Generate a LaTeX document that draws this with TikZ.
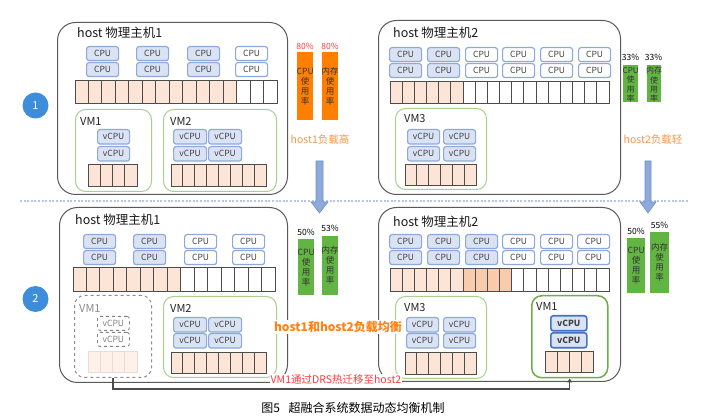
\documentclass[tikz,border=0pt]{standalone}
\usepackage{fontspec}
\setmainfont{Noto Sans CJK SC}
\usetikzlibrary{arrows.meta}
\definecolor{cpuB}{HTML}{8EA9DB}
\definecolor{cpuBd}{HTML}{4472C4}
\definecolor{cpuFill}{HTML}{DAE3F3}
\definecolor{memFill}{HTML}{FCE4D6}
\definecolor{memDark}{HTML}{F8CBAD}
\definecolor{memFade}{HTML}{FDF1E9}
\definecolor{memFadeB}{HTML}{E9DCD3}
\definecolor{vmG}{HTML}{A9D18E}
\definecolor{vmGd}{HTML}{70AD47}
\definecolor{barO}{HTML}{FF7F00}
\definecolor{barG}{HTML}{62B443}
\definecolor{redT}{HTML}{FF3B3B}
\definecolor{oraT}{HTML}{F7964A}
\definecolor{oraB}{HTML}{FF8214}
\definecolor{arrB}{HTML}{8EA9DB}
\definecolor{arrBd}{HTML}{6F8FC9}
\definecolor{circ}{HTML}{3E8DDA}
\definecolor{sepC}{HTML}{B4C7E7}

\tikzset{
  host/.style={draw=black!65, line width=1pt, rounded corners=18pt, anchor=north west, inner sep=0},
  hostlabel/.style={font=\fontsize{12.5}{14}\selectfont, anchor=west, inner sep=0, text=black!90},
  cpubox/.style={draw=cpuB, line width=1.2pt, rounded corners=2.5pt, minimum width=32pt, minimum height=14pt, inner sep=0, anchor=north west, font=\fontsize{8.5}{9}\selectfont, text=black!75},
  vcpu/.style={cpubox, fill=cpuFill, minimum width=33pt, minimum height=14.5pt},
  vm/.style={draw=vmG, line width=1pt, rounded corners=10pt, anchor=north west, inner sep=0},
  vmlabel/.style={font=\fontsize{11}{12}\selectfont, anchor=west, inner sep=0, text=black!85},
  memcell/.style={draw=black!70, line width=0.9pt, inner sep=0, outer sep=0, anchor=north west},
  barbox/.style={anchor=north west, inner sep=0, draw=none},
  bartext/.style={align=center, font=\fontsize{8.5}{10}\selectfont, inner sep=0, text=black!80},
  pct/.style={font=\fontsize{8.5}{9}\selectfont, inner sep=0},
  mig/.style={draw=black!70, line width=1.3pt, -{Triangle[length=4pt,width=5pt]}},
  bluearrow/.style={fill=arrB, draw=arrBd, line width=0.6pt},
  numcirc/.style={circle, fill=circ, text=white, minimum size=26pt, inner sep=0, font=\fontsize{11}{12}\selectfont}
}

\newcommand\cpurow[4]{%
  \foreach \xx/\fc [count=\k] in {#4}{
    \node[cpubox, fill=\fc] (#1-\k-1) at (\xx,#2) {CPU};
    \node[cpubox, fill=\fc] (#1-\k-2) at (\xx,#3) {CPU};
  }}

\newcommand\membar[8]{%
  \pgfmathsetmacro\cw{(#4-#2)/#6}%
  \pgfmathsetmacro\ch{#5-#3}%
  \foreach \i in {1,...,#6}{
    \pgfmathsetmacro\xa{#2+(\i-1)*\cw}
    \ifnum\i>\numexpr#7+#8\relax \def\fc{white}\else\ifnum\i>#7 \def\fc{memDark}\else\def\fc{memFill}\fi\fi
    \node[memcell, fill=\fc, minimum width=\cw pt, minimum height=\ch pt] (#1-\i) at (\xa,#3) {};
  }}

\begin{document}
\begin{tikzpicture}[x=1pt,y=-1pt]
\fill[white] (0,0) rectangle (707,419);
\useasboundingbox (0,0) rectangle (707,419);

% separator
\draw[sepC, line width=1.2pt, dash pattern=on 2pt off 1.6pt] (20,201) -- (689,201);

% step circles
\node[numcirc] (n1) at (35.5,105.5) {1};
\node[numcirc] (n2) at (35.5,299) {2};

% ================= TOP HOST 1 =================
\node[host, minimum width=230pt, minimum height=172pt] (h1) at (57,22) {};
\node[hostlabel] (h1l) at (77,33) {host 物理主机1};
\cpurow{a}{46}{62}{86/cpuFill,136/cpuFill,187/cpuFill,235/white}
\membar{am}{75}{80}{277}{103}{15}{12}{0}
\node[vm, minimum width=76pt, minimum height=82pt] (avm1) at (75,109) {};
\node[vmlabel] (avm1l) at (80,121) {VM1};
\node[vcpu, minimum width=32pt] (avm1c1) at (97,129) {vCPU};
\node[vcpu, minimum width=32pt] (avm1c2) at (97,146) {vCPU};
\membar{avm1m}{88}{164}{137}{186}{4}{4}{0}
\node[vm, minimum width=113pt, minimum height=82pt] (avm2) at (163,109) {};
\node[vmlabel] (avm2l) at (170,121) {VM2};
\node[vcpu] (avm2c1) at (173,129) {vCPU};
\node[vcpu] (avm2c2) at (208,129) {vCPU};
\node[vcpu] (avm2c3) at (173,146) {vCPU};
\node[vcpu] (avm2c4) at (208,146) {vCPU};
\membar{avm2m}{171}{164}{266}{186}{8}{8}{0}

% top host1 bars
\node[barbox, fill=barO, minimum width=16pt, minimum height=68pt] (ob1) at (297,52) {};
\node[barbox, fill=barO, minimum width=16pt, minimum height=68pt] (ob2) at (322,52) {};
\node[bartext] (ob1t) at (ob1.center) {CPU\\使\\用\\率};
\node[bartext] (ob2t) at (ob2.center) {内存\\使\\用\\率};
\node[pct, text=redT] (ob1p) at (305,46) {80\%};
\node[pct, text=redT] (ob2p) at (330,46) {80\%};
\node[font=\fontsize{10.5}{12}\selectfont, text=oraT, inner sep=0] (h1load) at (320,140) {host1负载高};

% ================= TOP HOST 2 =================
\node[host, minimum width=242pt, minimum height=174pt] (h2) at (378,20) {};
\node[hostlabel] (h2l) at (393,33) {host 物理主机2};
\cpurow{b}{47}{63}{389/cpuFill,427/cpuFill,465/white,502/white,540/white,578/white}
\membar{bm}{390}{81}{609}{103}{18}{6}{0}
\node[vm, minimum width=91pt, minimum height=81pt] (bvm3) at (395,108) {};
\node[vmlabel] (bvm3l) at (404,119) {VM3};
\node[vcpu, minimum width=32pt] (bvm3c1) at (407,129) {vCPU};
\node[vcpu, minimum width=32pt] (bvm3c2) at (443,129) {vCPU};
\node[vcpu, minimum width=32pt] (bvm3c3) at (407,146) {vCPU};
\node[vcpu, minimum width=32pt] (bvm3c4) at (443,146) {vCPU};
\membar{bvm3m}{405}{164}{476}{185}{6}{6}{0}

\node[barbox, fill=barG, minimum width=15pt, minimum height=37pt] (gb1) at (623,65) {};
\node[barbox, fill=barG, minimum width=14pt, minimum height=37pt] (gb2) at (647,65) {};
\node[bartext, font=\fontsize{8}{9.3}\selectfont] (gb1t) at ([yshift=-1pt]gb1.center) {CPU\\使\\用\\率};
\node[bartext, font=\fontsize{8}{9.3}\selectfont] (gb2t) at ([yshift=-1pt]gb2.center) {内存\\使\\用\\率};
\node[pct] (gb1p) at (630.5,57) {33\%};
\node[pct] (gb2p) at (653.5,57) {33\%};
\node[font=\fontsize{10.5}{12}\selectfont, text=oraT, inner sep=0] (h2load) at (653,140) {host2负载轻};

% blue arrows
\filldraw[bluearrow] (316,161) -- (323,161) -- (323,202) -- (328,202) -- (319.5,213) -- (311,202) -- (316,202) -- cycle;
\filldraw[bluearrow] (645,161) -- (651,161) -- (651,202) -- (656,202) -- (648,213) -- (640,202) -- (645,202) -- cycle;

% ================= BOTTOM HOST 1 =================
\node[host, minimum width=228pt, minimum height=175pt] (c1) at (59,207) {};
\node[hostlabel] (c1l) at (75,220) {host 物理主机1};
\cpurow{c}{234}{250}{83/cpuFill,133/cpuFill,184/white,232/white}
\membar{cm}{73}{267}{275}{291}{15}{8}{0}
% old VM1 (faded)
\node[vm, draw=black!45, dashed, minimum width=77pt, minimum height=82pt] (ovm1) at (74,295) {};
\node[vmlabel, text=black!45] (ovm1l) at (79,308) {VM1};
\node[cpubox, draw=black!50, dashed, line width=0.8pt, fill=white, text=black!50] (ovm1c1) at (97,316) {vCPU};
\node[cpubox, draw=black!50, dashed, line width=0.8pt, fill=white, text=black!50] (ovm1c2) at (97,332) {vCPU};
\foreach \i in {1,...,4}{
  \node[memcell, draw=memFadeB, fill=memFade, minimum width=12.25pt, minimum height=21pt] (ovm1m-\i) at ({88+(\i-1)*12.25},351) {};
}
\node[vm, minimum width=113pt, minimum height=81pt] (cvm2) at (163,296) {};
\node[vmlabel] (cvm2l) at (170,308) {VM2};
\node[vcpu] (cvm2c1) at (173,317) {vCPU};
\node[vcpu] (cvm2c2) at (208,317) {vCPU};
\node[vcpu] (cvm2c3) at (173,333) {vCPU};
\node[vcpu] (cvm2c4) at (208,333) {vCPU};
\membar{cvm2m}{171}{352}{266}{373}{8}{8}{0}

\node[barbox, fill=barG, minimum width=16pt, minimum height=56pt] (cb1) at (298,239) {};
\node[barbox, fill=barG, minimum width=16pt, minimum height=59pt] (cb2) at (322,236) {};
\node[bartext] (cb1t) at (cb1.center) {CPU\\使\\用\\率};
\node[bartext] (cb2t) at (cb2.center) {内存\\使\\用\\率};
\node[pct] (cb1p) at (306,232) {50\%};
\node[pct] (cb2p) at (330,228) {53\%};

% ================= BOTTOM HOST 2 =================
\node[host, minimum width=242pt, minimum height=174pt] (d2) at (378,207) {};
\node[hostlabel] (d2l) at (393,222) {host 物理主机2};
\cpurow{d}{234}{250}{389/cpuFill,427/cpuFill,465/cpuFill,502/white,540/white,577/white}
\membar{dm}{390}{268}{609}{291}{18}{6}{4}
\node[vm, minimum width=91pt, minimum height=82pt] (dvm3) at (395,296) {};
\node[vmlabel] (dvm3l) at (404,308) {VM3};
\node[vcpu, minimum width=32pt] (dvm3c1) at (406,317) {vCPU};
\node[vcpu, minimum width=32pt] (dvm3c2) at (443,317) {vCPU};
\node[vcpu, minimum width=32pt] (dvm3c3) at (406,333) {vCPU};
\node[vcpu, minimum width=32pt] (dvm3c4) at (443,333) {vCPU};
\membar{dvm3m}{405}{352}{476}{374}{6}{6}{0}
% new VM1
\node[vm, draw=vmGd, line width=1.5pt, minimum width=76pt, minimum height=82pt] (nvm1) at (531,295) {};
\node[vmlabel] (nvm1l) at (536,306) {VM1};
\node[vcpu, draw=cpuBd, line width=1.6pt, minimum width=36pt, minimum height=15pt, font=\fontsize{8.5}{9}\selectfont\bfseries] (nvm1c1) at (550,315) {vCPU};
\node[vcpu, draw=cpuBd, line width=1.6pt, minimum width=36pt, minimum height=15pt, font=\fontsize{8.5}{9}\selectfont\bfseries] (nvm1c2) at (550,332) {vCPU};
\membar{nvm1m}{545}{351}{593}{372}{4}{4}{0}

\node[barbox, fill=barG, minimum width=18pt, minimum height=55pt] (db1) at (627,238) {};
\node[barbox, fill=barG, minimum width=19pt, minimum height=61pt] (db2) at (650,232) {};
\node[bartext] (db1t) at (db1.center) {CPU\\使\\用\\率};
\node[bartext] (db2t) at (db2.center) {内存\\使\\用\\率};
\node[pct] (db1p) at (636,231) {50\%};
\node[pct] (db2p) at (659.5,225) {55\%};

% middle texts
\node[font=\fontsize{12}{14}\selectfont\bfseries, text=oraB, fill=white, inner sep=1pt] (bal) at (338,327) {host1和host2负载均衡};
\draw[mig] (ovm1.south) -- ++(0,11) -| (nvm1.south);
\node[font=\fontsize{10.5}{12}\selectfont, text=redT, fill=white, inner sep=1pt] (migt) at (336,380) {VM1通过DRS热迁移至host2};

% caption
\node[font=\fontsize{12}{14}\selectfont, inner sep=0] (cap) at (353,408) {图5\hspace{0.7em}超融合系统数据动态均衡机制};
\end{tikzpicture}
\end{document}
